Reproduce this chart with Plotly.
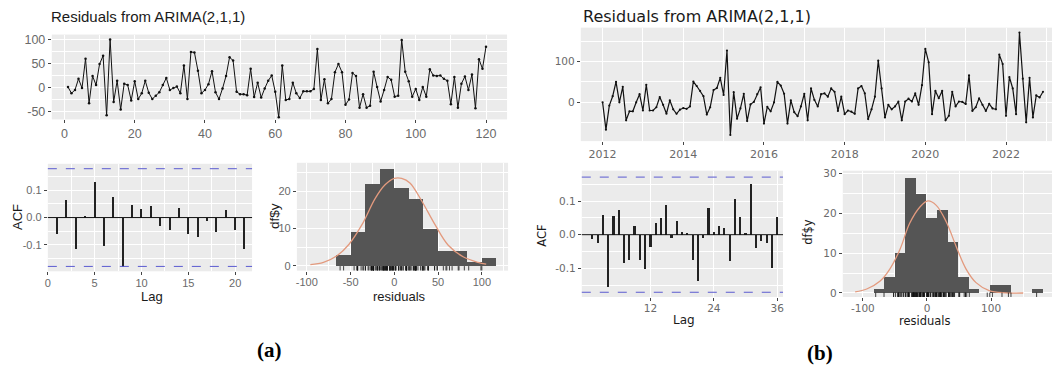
import numpy as np
import plotly.graph_objects as go

# ---------------- data ----------------
# (a) residual series, t = 1..120
ts_a = [1, -12, -5, 18, -1, 60, -33, 24, 5, 49,
        66, -58, 100, -30, 14, -46, 8, 5, -27, 13,
        -24, -12, 14, -11, -24, -17, -10, 5, 20, -5,
        -1, 2, -12, 46, -24, 74, 73, 35, -12, -5,
        7, 34, -10, -24, -2, 24, 63, 56, -9, -14,
        -14, -16, 39, -20, 10, -21, -2, 14, 25, -9,
        -62, 46, -26, -24, 10, -12, -22, -8, -8, -8,
        -3, 80, -26, 17, -33, -24, 32, 49, 32, -36,
        -25, 30, 24, -42, -14, -42, -38, 33, 1, -29,
        -5, 22, 16, -19, -17, 99, 33, 13, -19, -3,
        -26, 1, -19, 38, 25, 24, 25, 18, 14, -35,
        22, -42, 8, 23, -5, 27, -43, 59, 39, 85]

# (b) monthly residual series, Jan 2012 .. Dec 2022
ts_b_start_year = 2012
ts_b = [0, -67, -8, 15, 50, 0, 38, -44, -22, -22, 0, 20,
        -20, 43, -20, -20, -12, 13, -6, -28, 5, -17, -28, -18,
        -14, -16, -10, 51, 40, 28, 15, -30, -12, 30, 35, 60,
        18, 127, -80, 25, -40, -15, 21, -46, -5, 1, 20, 37,
        -52, -11, -22, 0, 50, 41, 21, -52, 5, -24, -34, -10,
        21, -44, 34, 6, -10, 20, 22, 14, 34, 26, -21, 14,
        -29, -20, -23, -28, 34, 40, 22, -41, -17, 14, 102, 34,
        -37, -6, -17, -10, 2, -44, 2, 9, 2, 22, -6, 42,
        131, 98, -29, 28, 10, 28, -44, -33, 26, -10, 2, 1,
        -4, 66, -21, -12, 10, -6, -21, -4, -15, -17, 117, 94,
        -33, 62, 34, -29, 171, 58, -49, 60, -37, 17, 12, 26]

acf_a = [-0.06, 0.065, -0.116, 0.008, 0.132, -0.104, 0.075, -0.179, 0.047, 0.032,
         0.044, -0.029, -0.046, 0.035, -0.058, -0.070, -0.013, -0.053, 0.029, -0.046,
         -0.116]
acf_b = [-0.012, -0.025, 0.058, -0.155, 0.055, 0.074, -0.082, -0.075, 0.028, -0.073,
         -0.100, -0.035, 0.036, 0.050, 0.090, -0.010, 0.043, 0.010, 0.004, -0.073,
         -0.138, -0.010, 0.080, 0.010, 0.026, 0.022, -0.076, 0.107, 0.054, 0.004,
         0.150, -0.040, -0.018, -0.025, -0.098, 0.052]
ci_a = 0.179
ci_b = 0.171

hist_a_edges = [-66.5, -49.9, -33.3, -16.7, -0.1, 16.5, 33.1, 49.7, 66.3, 82.9, 99.5, 116.1]
hist_a_counts = [3, 9, 22, 26, 21, 18, 10, 4, 4, 1, 2]
hist_b_edges = [-83.7, -67.2, -50.7, -34.2, -17.7, -1.2, 15.3, 31.8, 48.3, 64.8,
                81.3, 97.8, 114.3, 130.8, 147.3, 163.8, 180.3]
hist_b_counts = [1, 4, 10, 29, 25, 19, 21, 13, 4, 1, 0, 2, 2, 0, 0, 1]

curve_a_x = [-96, -81, -66, -52, -37, -22, -10.6, 0, 8.4, 17.8, 31, 46.5, 61.6, 78.6, 95.7, 105]
curve_a_y = [0.3, 0.9, 2.6, 5.7, 11, 18, 21.7, 23.4, 23.4, 22.2, 17.5, 11, 5.5, 2.4, 0.9, 0.4]
curve_b_x = [-112, -94, -73, -58, -42, -27, -11, 1.5, 14.5, 30, 45.5, 61, 76.5, 97, 123, 150]
curve_b_y = [0.3, 1, 3, 6, 11, 17.5, 21.6, 23.1, 22, 17.9, 11.7, 6, 2.6, 0.6, 0.05, 0.0]

title_text = "Residuals from ARIMA(2,1,1)"

# ---------------- layout helpers ----------------
W, H = 1053, 370
def fx(p): return p / W
def fy(p): return 1 - p / H

SANS_A = "Liberation Sans, Arial, sans-serif"
SANS_B = "DejaVu Sans, sans-serif"
TICK_COL = "#6a6a6a"
GRID = "white"
PANEL = "#EBEBEB"

def axis(dom, rng, tickvals, ticktext, minor_vals, font, size, anchor, horizontal, standoff=0):
    d = dict(
        domain=[fx(dom[0]), fx(dom[1])] if horizontal else [fy(dom[1]), fy(dom[0])],
        range=rng, anchor=anchor, tickmode="array", tickvals=tickvals, ticktext=ticktext,
        showgrid=True, gridcolor=GRID, gridwidth=1.1, zeroline=False, showline=False,
        ticks="outside", ticklen=3, tickwidth=1, tickcolor="#444",
        tickfont=dict(family=font, size=size, color=TICK_COL),
        minor=dict(tickmode="array", tickvals=minor_vals, showgrid=True,
                   gridcolor=GRID, gridwidth=0.5, ticks=""),
        fixedrange=True,
    )
    if standoff:
        d["ticklabelstandoff"] = standoff
    return d

fig = go.Figure()

# ---------- (a) time series ----------
t_a = np.arange(1, len(ts_a) + 1)
fig.add_trace(go.Scatter(x=t_a, y=ts_a, mode="lines+markers", xaxis="x", yaxis="y",
                         line=dict(color="#111", width=1), marker=dict(color="#111", size=2.5)))

# ---------- (a) ACF ----------
lags_a = np.arange(1, len(acf_a) + 1)
fig.add_trace(go.Bar(x=lags_a, y=acf_a, width=0.16, marker=dict(color="#222", line=dict(width=0)),
                     xaxis="x2", yaxis="y2"))

# ---------- (a) histogram ----------
ea = np.array(hist_a_edges)
fig.add_trace(go.Bar(x=(ea[:-1] + ea[1:]) / 2, y=hist_a_counts, width=np.diff(ea),
                     marker=dict(color="#555555", line=dict(width=0)), xaxis="x3", yaxis="y3"))
fig.add_trace(go.Scatter(x=curve_a_x, y=curve_a_y, mode="lines", line=dict(color="#E39A7E", width=1.3, shape="spline"),
                         xaxis="x3", yaxis="y3"))
rug_a_lo, rug_a_hi = -1.32, -0.1
rx, ry = [], []
for v in ts_a:
    rx += [v, v, None]; ry += [rug_a_lo, rug_a_hi, None]
fig.add_trace(go.Scatter(x=rx, y=ry, mode="lines", line=dict(color="#111", width=0.8), xaxis="x3", yaxis="y3"))

# ---------- (b) time series ----------
t_b = ts_b_start_year + np.arange(len(ts_b)) / 12.0
fig.add_trace(go.Scatter(x=t_b, y=ts_b, mode="lines+markers", xaxis="x4", yaxis="y4",
                         line=dict(color="#111", width=1.2), marker=dict(color="#111", size=2.2)))

# ---------- (b) ACF ----------
lags_b = np.arange(1, len(acf_b) + 1)
fig.add_trace(go.Bar(x=lags_b, y=acf_b, width=0.32, marker=dict(color="#222", line=dict(width=0)),
                     xaxis="x5", yaxis="y5"))

# ---------- (b) histogram ----------
eb = np.array(hist_b_edges)
fig.add_trace(go.Bar(x=(eb[:-1] + eb[1:]) / 2, y=hist_b_counts, width=np.diff(eb),
                     marker=dict(color="#555555", line=dict(width=0)), xaxis="x6", yaxis="y6"))
fig.add_trace(go.Scatter(x=curve_b_x, y=curve_b_y, mode="lines", line=dict(color="#E39A7E", width=1.3, shape="spline"),
                         xaxis="x6", yaxis="y6"))
rug_b_lo, rug_b_hi = -1.0, 0.1
rx, ry = [], []
for v in ts_b:
    rx += [v, v, None]; ry += [rug_b_lo, rug_b_hi, None]
fig.add_trace(go.Scatter(x=rx, y=ry, mode="lines", line=dict(color="#111", width=0.8), xaxis="x6", yaxis="y6"))

# ---------------- axes ----------------
lay = dict(
    width=W, height=H, margin=dict(l=0, r=0, t=0, b=0),
    paper_bgcolor="white", plot_bgcolor=PANEL, showlegend=False, bargap=0,
)
# (a) TS
lay["xaxis"] = axis((49, 506), [-3.6, 126], [0, 20, 40, 60, 80, 100, 120],
                    ["0", "20", "40", "60", "80", "100", "120"], [10, 30, 50, 70, 90, 110],
                    SANS_A, 12.5, "y", True)
lay["yaxis"] = axis((32, 118), [-66.4, 110.2], [-50, 0, 50, 100], ["-50", "0", "50", "100"],
                    [-25, 25, 75], SANS_A, 12.5, "x", False)
# (a) ACF
lay["xaxis2"] = axis((45, 250), [0, 21.8], [0, 5, 10, 15, 20], ["0", "5", "10", "15", "20"],
                     [2.5, 7.5, 12.5, 17.5], SANS_A, 11, "y2", True, standoff=-2)
lay["yaxis2"] = axis((163, 272), [-0.197, 0.197], [-0.1, 0.0, 0.1], ["-0.1", "0.0", "0.1"],
                     [-0.15, -0.05, 0.05, 0.15], SANS_A, 11, "x2", False)
# (a) histogram
lay["xaxis3"] = axis((295, 507), [-111.4, 130], [-100, -50, 0, 50, 100], ["-100", "-50", "0", "50", "100"],
                     [-75, -25, 25, 75, 125], SANS_A, 11, "y3", True, standoff=-2)
lay["yaxis3"] = axis((162, 271.3), [-1.32, 27.6], [0, 10, 20], ["0", "10", "20"],
                     [5, 15, 25], SANS_A, 11, "x3", False)
# (b) TS
lay["xaxis4"] = axis((580, 1053), [2011.46, 2023.14], [2012, 2014, 2016, 2018, 2020, 2022],
                     ["2012", "2014", "2016", "2018", "2020", "2022"],
                     [2013, 2015, 2017, 2019, 2021, 2023], SANS_B, 11, "y4", True)
lay["yaxis4"] = axis((25, 140), [-95, 183], [0, 100], ["0", "100"], [-50, 50, 150],
                     SANS_B, 10.5, "x4", False)
# (b) ACF
lay["xaxis5"] = axis((581, 783), [-1.0, 37.1], [12, 24, 36], ["12", "24", "36"], [],
                     SANS_B, 10.5, "y5", True, standoff=-2)
lay["yaxis5"] = axis((170, 298), [-0.185, 0.19], [-0.1, 0.0, 0.1], ["-0.1", "0.0", "0.1"],
                     [-0.15, -0.05, 0.05, 0.15], SANS_B, 10.5, "x5", False)
# (b) histogram
lay["xaxis6"] = axis((843, 1053), [-131.3, 195], [-100, 0, 100], ["-100", "0", "100"],
                     [-50, 50, 150], SANS_B, 10.5, "y6", True, standoff=-2)
lay["yaxis6"] = axis((170, 298), [-1.0, 30.7], [0, 10, 20, 30], ["0", "10", "20", "30"],
                     [5, 15, 25], SANS_B, 10.5, "x6", False)
fig.update_layout(**lay)

# ACF reference lines
shapes = []
for xa, ya, ci in (("x2", "y2", ci_a), ("x5", "y5", ci_b)):
    shapes.append(dict(type="line", xref=xa + " domain", yref=ya, x0=0, x1=1, y0=0, y1=0,
                       line=dict(color="#111", width=1)))
    for s in (ci, -ci):
        shapes.append(dict(type="line", xref=xa + " domain", yref=ya, x0=0, x1=1, y0=s, y1=s,
                           line=dict(color="#5B5BD0", width=1, dash="dash")))
fig.update_layout(shapes=shapes)

# texts
def ann(text, x, y, size, family, angle=0, color="#1a1a1a", xanchor="center", bold=False):
    return dict(text=("<b>%s</b>" % text) if bold else text, x=fx(x), y=fy(y), xref="paper", yref="paper",
                showarrow=False, xanchor=xanchor, yanchor="middle", textangle=angle,
                font=dict(size=size, family=family, color=color))

anns = [
    ann(title_text, 46, 14, 15, SANS_A, xanchor="left"),
    ann(title_text, 580, 14, 16, SANS_B, xanchor="left"),
    ann("ACF", 14, 217, 13, SANS_A, angle=-90),
    ann("Lag", 150, 298, 13, SANS_A),
    ann("df$y", 272, 216, 13.5, SANS_A, angle=-90),
    ann("residuals", 398, 298, 13, SANS_A),
    ann("ACF", 541, 236, 11.5, SANS_B, angle=-90),
    ann("Lag", 684, 321, 12, SANS_B),
    ann("df$y", 808, 232, 11.5, SANS_B, angle=-90),
    ann("residuals", 926, 322, 11.5, SANS_B),
    ann("(a)", 268, 352, 21, "Liberation Serif, Times New Roman, serif", color="black", bold=True),
    ann("(b)", 820, 355, 21, "Liberation Serif, Times New Roman, serif", color="black", bold=True),
]
fig.update_layout(annotations=anns)

fig.write_html("out.html", config={"displayModeBar": False},
               post_script="document.body.style.margin='0';document.body.style.overflow='hidden';")
